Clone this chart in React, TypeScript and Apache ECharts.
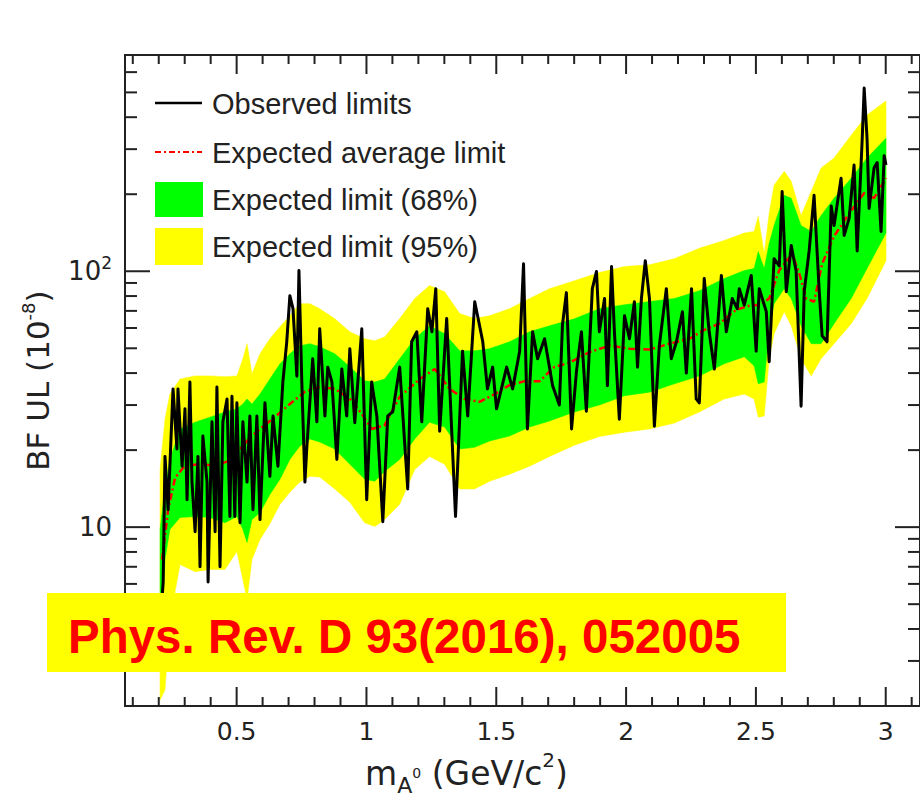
import React, { useEffect, useRef } from "react";
import * as echarts from "echarts";

// ---------- data (mass in GeV/c^2, BF upper limit in 1e-8) ----------
const obsMass = [
  0.209, 0.217, 0.224, 0.236, 0.255, 0.270, 0.274, 0.290, 0.301, 0.309,
  0.320, 0.328, 0.340, 0.351, 0.359, 0.370, 0.386, 0.390, 0.405, 0.417,
  0.424, 0.436, 0.447, 0.463, 0.474, 0.482, 0.493, 0.501, 0.513, 0.524,
  0.540, 0.551, 0.563, 0.578, 0.590, 0.609, 0.628, 0.640, 0.659, 0.678,
  0.693, 0.705, 0.717, 0.732, 0.740, 0.751, 0.763, 0.770, 0.793, 0.809,
  0.820, 0.840, 0.851, 0.867, 0.886, 0.905, 0.924, 0.936, 0.955, 0.982,
  1.001, 1.020, 1.040, 1.063, 1.082, 1.101, 1.128, 1.147, 1.159, 1.174,
  1.194, 1.213, 1.236, 1.252, 1.267, 1.282, 1.309, 1.320, 1.343, 1.370,
  1.390, 1.417, 1.428, 1.448, 1.466, 1.486, 1.501, 1.540, 1.563, 1.590,
  1.605, 1.620, 1.640, 1.659, 1.686, 1.717, 1.743, 1.755, 1.770, 1.790,
  1.809, 1.828, 1.847, 1.870, 1.886, 1.897, 1.917, 1.928, 1.944, 1.955,
  1.974, 1.994, 2.013, 2.032, 2.044, 2.059, 2.074, 2.090, 2.109, 2.128,
  2.155, 2.174, 2.194, 2.217, 2.232, 2.252, 2.270, 2.282, 2.301, 2.320,
  2.340, 2.367, 2.386, 2.409, 2.428, 2.436, 2.455, 2.482, 2.501, 2.513,
  2.540, 2.551, 2.570, 2.590, 2.601, 2.617, 2.636, 2.655, 2.674, 2.686,
  2.705, 2.724, 2.744, 2.755, 2.774, 2.790, 2.801, 2.828, 2.840, 2.859,
  2.878, 2.890, 2.909, 2.917, 2.928, 2.936, 2.955, 2.967, 2.982, 2.994,
  3.001,
];
const obsUL = [
  4.6, 6.1, 18.9, 11.7, 34.7, 20.2, 34.7, 17.3, 29.0, 12.8,
  36.9, 15.0, 9.6, 18.9, 7.0, 22.7, 15.0, 6.1, 25.8, 9.6,
  35.3, 7.0, 25.8, 31.7, 11.0, 32.5, 11.0, 30.6, 10.4, 25.8,
  15.0, 27.2, 11.7, 27.2, 10.7, 30.6, 15.8, 27.2, 17.3, 36.9,
  53.0, 80.3, 71.4, 38.9, 100.6, 36.9, 15.0, 20.2, 45.5, 25.8,
  59.6, 27.2, 42.2, 36.9, 18.4, 41.5, 27.2, 49.8, 25.6, 59.6,
  12.8, 36.9, 27.2, 10.5, 27.2, 28.2, 42.2, 21.5, 14.1, 53.0,
  58.0, 25.8, 71.4, 58.0, 85.5, 23.7, 65.3, 36.9, 11.0, 48.7,
  27.2, 76.0, 67.0, 53.0, 34.7, 42.2, 29.0, 42.2, 34.7, 48.7,
  107, 24.2, 58.0, 45.5, 54.5, 35.7, 30.0, 61.8, 82.5, 24.2,
  40.8, 58.0, 28.4, 85.5, 99.8, 58.0, 78.2, 35.7, 104.4, 58.0,
  26.4, 67.0, 54.5, 76.0, 42.2, 78.2, 110, 78.2, 24.8, 51.2,
  85.5, 45.5, 53.0, 69.5, 40.0, 85.5, 31.7, 30.6, 93.6, 58.0,
  41.5, 96.3, 58.0, 78.2, 71.4, 85.5, 73.7, 96.3, 48.7, 85.5,
  69.5, 44.3, 112, 105, 205, 83.2, 126, 100, 29.7, 83.2,
  120, 198, 83.2, 56.0, 53.0, 180, 151, 231, 138, 161,
  260, 120, 322, 520, 331, 176, 253, 266, 143, 283,
  260,
];

const expMass = [
  0.213, 0.236, 0.263, 0.301, 0.359, 0.417, 0.474, 0.513, 0.551, 0.590,
  0.647, 0.705, 0.763, 0.820, 0.878, 0.936, 0.982, 1.020, 1.070, 1.128,
  1.205, 1.263, 1.320, 1.378, 1.436, 1.494, 1.551, 1.609, 1.667, 1.724,
  1.782, 1.859, 1.936, 2.013, 2.090, 2.167, 2.244, 2.301, 2.359, 2.424,
  2.474, 2.513, 2.551, 2.590, 2.640, 2.667, 2.694, 2.724, 2.755, 2.801,
  2.859, 2.917, 2.955, 3.001,
];
const expUL = [
  7.47, 11.7, 15.6, 17.4, 17.6, 17.4, 18.2, 20.2, 22.3, 24.2,
  26.9, 30.3, 33.8, 35.3, 34.7, 31.7, 27.7, 24.2, 25.0, 32.3,
  37.9, 41.5, 34.7, 31.7, 30.9, 33.1, 35.9, 37.2, 37.2, 42.3,
  43.9, 48.3, 51.2, 49.8, 49.4, 52.1, 54.5, 59.0, 62.4, 70.7,
  73.3, 74.0, 78.2, 101, 117, 98, 78.2, 76.0, 107, 137,
  168, 202, 193, 231,
];

const bandMass = [
  0.205, 0.224, 0.243, 0.282, 0.340, 0.397, 0.455, 0.501, 0.524, 0.540,
  0.559, 0.590, 0.628, 0.667, 0.705, 0.743, 0.782, 0.820, 0.878, 0.936,
  0.993, 1.032, 1.070, 1.128, 1.186, 1.243, 1.301, 1.359, 1.416, 1.474,
  1.551, 1.628, 1.705, 1.801, 1.897, 1.994, 2.090, 2.186, 2.282, 2.378,
  2.455, 2.493, 2.509, 2.532, 2.551, 2.570, 2.609, 2.636, 2.674, 2.713,
  2.751, 2.801, 2.867, 2.928, 3.001,
];
const band95Hi = [
  16.8, 26.4, 33.1, 37.9, 39.0, 39.0, 38.7, 39.0, 45.5, 52.1,
  39.7, 47.6, 54.5, 60.7, 67.0, 74.7, 74.7, 71.4, 65.2, 58.0,
  54.5, 53.5, 55.4, 65.3, 78.2, 87.9, 83.2, 68.3, 65.3, 67.0,
  71.4, 78.2, 85.5, 91.9, 98.8, 104.3, 106, 112, 123, 132,
  141, 143, 164, 117, 168, 217, 246, 225, 165, 205,
  253, 277, 340, 408, 463,
];
const band68Hi = [
  9.8, 14.1, 18.4, 24.2, 25.7, 26.9, 28.2, 29.0, 30.3, 31.7,
  30.3, 33.1, 37.9, 43.5, 47.6, 51.1, 52.1, 50.7, 47.6, 42.3,
  37.3, 36.9, 37.9, 45.5, 54.5, 61.2, 57.0, 48.9, 48.9, 49.8,
  53.0, 58.0, 61.2, 65.2, 71.4, 74.0, 76.1, 78.2, 84.0, 93.6,
  100.6, 102.5, 119.5, 102.5, 128.5, 151, 198, 193, 151, 143,
  165, 193, 231, 277, 331,
];
const band68Lo = [
  3.31, 7.47, 9.8, 10.9, 11.0, 10.9, 10.4, 11.0, 9.8, 8.71,
  10.7, 11.4, 13.4, 15.4, 18.4, 20.7, 22.1, 21.5, 20.2, 17.6,
  15.4, 15.1, 16.5, 18.4, 22.1, 25.7, 24.6, 20.2, 20.5, 21.7,
  22.7, 24.6, 26.0, 28.2, 30.0, 32.6, 33.7, 36.3, 39.0, 43.5,
  46.3, 42.7, 36.3, 36.9, 59.6, 74.7, 85.5, 78.2, 61.2, 52.1,
  52.1, 62.4, 78.2, 102.5, 141,
];
const band95Lo = [
  2.11, 2.31, 4.35, 7.14, 6.7, 6.83, 6.83, 8.03, 6.24, 5.21,
  7.47, 8.95, 10.3, 12.3, 13.7, 15.0, 15.8, 15.7, 14.1, 12.5,
  10.4, 10.06, 10.7, 12.3, 16.8, 18.9, 17.6, 14.1, 14.1, 15.1,
  16.1, 17.3, 18.9, 20.9, 22.6, 23.5, 24.2, 25.5, 28.2, 31.7,
  33.1, 31.7, 26.9, 27.2, 45.5, 57.0, 69.5, 61.2, 45.5, 39.0,
  45.5, 52.1, 62.4, 78.2, 110,
];

const xTickLabels = [0.5, 1, 1.5, 2, 2.5, 3];
const xMajorTicks = [0.5, 1, 1.5, 2, 2.5, 3];
const xMinorTicks = [
  0.1, 0.2, 0.3, 0.4, 0.6, 0.7, 0.8, 0.9, 1.1, 1.2, 1.3, 1.4, 1.6,
  1.7, 1.8, 1.9, 2.1, 2.2, 2.3, 2.4, 2.6, 2.7, 2.8, 2.9, 3.1,
];
const yMajorTicks = [10, 100];
const yMinorTicks = [3, 4, 5, 6, 7, 8, 9, 20, 30, 40, 50, 60, 70, 80, 90, 200, 300, 400, 500, 600];

const legendLabels = [
  "Observed limits",
  "Expected average limit",
  "Expected limit (68%)",
  "Expected limit (95%)",
];
const citation = "Phys. Rev. D 93(2016), 052005";

// ---------- styling ----------
const INK = "#222";
const AXIS_FONT = "DejaVu Sans, Liberation Sans, sans-serif";
const TEXT_FONT = "Liberation Sans, Arial, Helvetica, sans-serif";
const YELLOW = "#ffff00";
const GREEN = "#00ff00";
const RED = "#ff0000";

function bandSeries(name: string, lo: number[], hi: number[], color: string, z: number) {
  return {
    name,
    type: "custom",
    coordinateSystem: "cartesian2d",
    silent: true,
    z,
    encode: { x: 0, y: [1, 2] },
    data: bandMass.map((m, i) => [m, lo[i], hi[i]]),
    renderItem: (params: any, api: any) => {
      if (params.dataIndex !== 0) return { type: "group", children: [] };
      const pts: number[][] = [];
      for (let i = 0; i < bandMass.length; i++) pts.push(api.coord([bandMass[i], hi[i]]));
      for (let i = bandMass.length - 1; i >= 0; i--) pts.push(api.coord([bandMass[i], lo[i]]));
      return {
        type: "polygon",
        shape: { points: pts },
        style: { fill: color, stroke: color, lineWidth: 0.5 },
      };
    },
  };
}

function tickSeries(values: number[], dir: "x" | "y", len: number) {
  return {
    type: "custom",
    coordinateSystem: "cartesian2d",
    silent: true,
    z: 20,
    clip: false,
    data: values.map((v) => (dir === "x" ? [v, 10] : [1, v])),
    renderItem: (params: any, api: any) => {
      const cs = params.coordSys;
      const st = { stroke: INK, lineWidth: 2 };
      if (dir === "x") {
        const px = api.coord([api.value(0), 10])[0];
        const b = cs.y + cs.height;
        return {
          type: "group",
          children: [
            { type: "line", shape: { x1: px, y1: b, x2: px, y2: b - len }, style: st },
            { type: "line", shape: { x1: px, y1: cs.y, x2: px, y2: cs.y + len }, style: st },
          ],
        };
      }
      const py = api.coord([1, api.value(1)])[1];
      const r = cs.x + cs.width;
      return {
        type: "group",
        children: [
          { type: "line", shape: { x1: cs.x, y1: py, x2: cs.x + len, y2: py }, style: st },
          { type: "line", shape: { x1: r, y1: py, x2: r - len, y2: py }, style: st },
        ],
      };
    },
  };
}

export default function App() {
  const ref = useRef<HTMLDivElement>(null);

  useEffect(() => {
    if (!ref.current) return;
    const chart = echarts.init(ref.current, undefined, { renderer: "svg" });

    const legendRows = [103, 152, 199, 246];

    const option: any = {
      animation: false,
      backgroundColor: "#ffffff",
      grid: {
        left: 125,
        top: 55,
        width: 796,
        height: 652,
        show: true,
        borderColor: INK,
        borderWidth: 2,
        backgroundColor: "transparent",
      },
      xAxis: {
        type: "value",
        min: 0.07,
        max: 3.132,
        axisLine: { show: false },
        axisTick: { show: false },
        splitLine: { show: false },
        axisLabel: {
          customValues: xTickLabels,
          margin: 13,
          fontSize: 25,
          color: INK,
          fontFamily: AXIS_FONT,
        },
        name: "{m|m}{sub|A}{ss|0}{m| (GeV/c}{sup|2}{m|)}",
        nameLocation: "middle",
        nameGap: 44,
        nameTextStyle: {
          padding: [0, 112, 0, 0],
          rich: {
            m: { fontSize: 33, lineHeight: 46, verticalAlign: "middle", color: INK, fontFamily: AXIS_FONT },
            sub: { fontSize: 22, lineHeight: 22, verticalAlign: "bottom", color: INK, fontFamily: AXIS_FONT },
            ss: { fontSize: 14, lineHeight: 14, verticalAlign: "middle", color: INK, fontFamily: AXIS_FONT },
            sup: { fontSize: 20, lineHeight: 20, verticalAlign: "top", color: INK, fontFamily: AXIS_FONT },
          },
        },
      },
      yAxis: {
        type: "log",
        logBase: 10,
        min: 2,
        max: 700,
        axisLine: { show: false },
        axisTick: { show: false },
        minorTick: { show: false },
        splitLine: { show: false },
        axisLabel: {
          margin: 13,
          formatter: (v: number) => {
            if (Math.abs(v - 100) < 1e-6) return "{n|10}{e|2}";
            if (Math.abs(v - 10) < 1e-6) return "{n|10}";
            return "";
          },
          rich: {
            n: { fontSize: 26, lineHeight: 34, verticalAlign: "middle", color: INK, fontFamily: AXIS_FONT },
            e: { fontSize: 17, lineHeight: 17, verticalAlign: "top", color: INK, fontFamily: AXIS_FONT },
          },
        },
        name: "{n|BF UL (10}{e|-8}{n|)}",
        nameLocation: "middle",
        nameGap: 68,
        nameTextStyle: {
          rich: {
            n: { fontSize: 31, lineHeight: 38, verticalAlign: "middle", color: INK, fontFamily: AXIS_FONT },
            e: { fontSize: 18, lineHeight: 18, verticalAlign: "top", color: INK, fontFamily: AXIS_FONT },
          },
        },
      },
      series: [
        bandSeries(legendLabels[3], band95Lo, band95Hi, YELLOW, 2),
        bandSeries(legendLabels[2], band68Lo, band68Hi, GREEN, 3),
        {
          name: legendLabels[1],
          type: "line",
          z: 4,
          silent: true,
          showSymbol: false,
          data: expMass.map((m, i) => [m, expUL[i]]),
          lineStyle: { color: RED, width: 2.5, type: [7, 3, 2, 3] },
        },
        {
          name: legendLabels[0],
          type: "line",
          z: 5,
          silent: true,
          showSymbol: false,
          data: obsMass.map((m, i) => [m, obsUL[i]]),
          lineStyle: { color: "#000", width: 3, join: "round" },
        },
        tickSeries(xMajorTicks, "x", 19),
        tickSeries(xMinorTicks, "x", 9),
        tickSeries(yMajorTicks, "y", 25),
        tickSeries(yMinorTicks, "y", 12),
      ],
      graphic: [
        { type: "line", z: 100, shape: { x1: 155, y1: legendRows[0], x2: 202, y2: legendRows[0] }, style: { stroke: "#000", lineWidth: 2.5 } },
        { type: "line", z: 100, shape: { x1: 155, y1: legendRows[1], x2: 202, y2: legendRows[1] }, style: { stroke: RED, lineWidth: 2, lineDash: [6, 3, 2, 3] } },
        { type: "rect", z: 100, shape: { x: 155, y: 182, width: 48, height: 35 }, style: { fill: GREEN } },
        { type: "rect", z: 100, shape: { x: 155, y: 228, width: 48, height: 37 }, style: { fill: YELLOW } },
        ...legendLabels.map((t, i) => ({
          type: "text",
          z: 100,
          x: 212,
          y: legendRows[i] + 1,
          style: { text: t, fill: INK, font: `29px ${TEXT_FONT}`, verticalAlign: "middle", align: "left" },
        })),
        { type: "rect", z: 110, shape: { x: 47, y: 593, width: 739, height: 79 }, style: { fill: YELLOW } },
        {
          type: "text",
          z: 111,
          x: 68,
          y: 636,
          style: { text: citation, fill: RED, font: `bold 47.5px ${TEXT_FONT}`, verticalAlign: "middle", align: "left" },
        },
      ],
    };

    chart.setOption(option);
    return () => chart.dispose();
  }, []);

  return (
    <div
      ref={ref}
      style={{ position: "absolute", left: 0, top: 0, width: 920, height: 801, background: "#fff" }}
    />
  );
}
